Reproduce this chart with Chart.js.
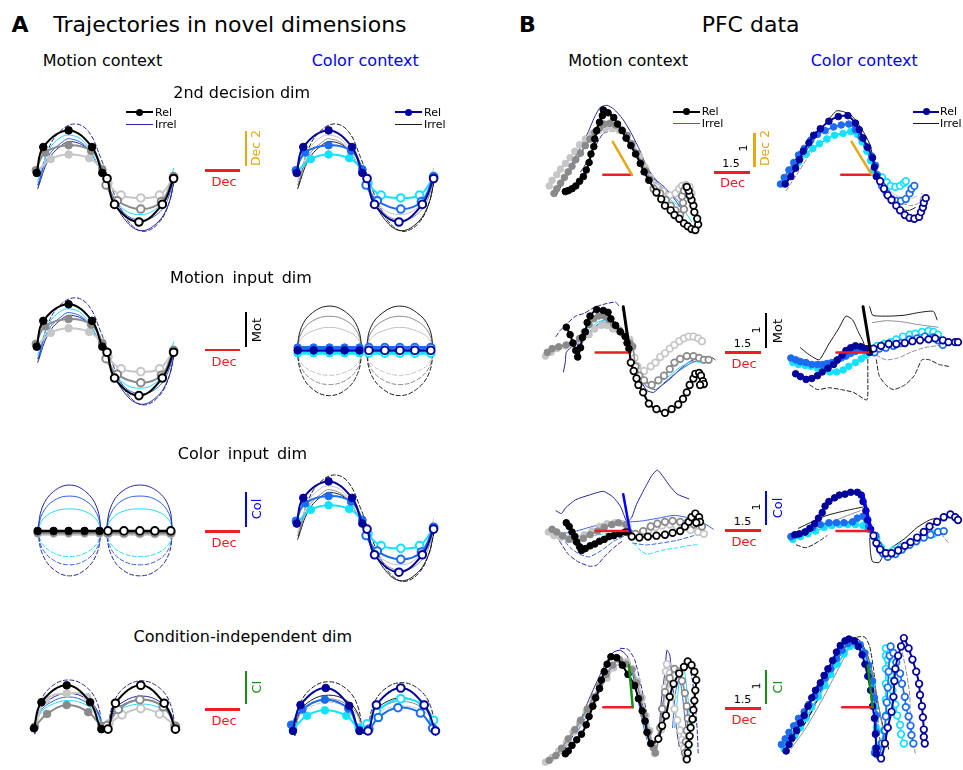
<!DOCTYPE html>
<html><head><meta charset="utf-8">
<script src="https://cdn.jsdelivr.net/npm/chart.js@4.4.1/dist/chart.umd.min.js"></script>
<style>
html,body{margin:0;padding:0;background:#fff;}
body{width:963px;height:770px;position:relative;overflow:hidden;font-family:"DejaVu Sans",sans-serif;color:#000;}
.t{position:absolute;white-space:nowrap;line-height:1;}
canvas{position:absolute;}
.bar{position:absolute;}
</style></head><body>
<script>
// ---------------- colours ----------------
const K='#000000', G2='#8a8a8a', G1='#c6c6c6', NV='#03039c', BL='#1c6cf2', CY='#12e2ff';
const IB1='#25259f', IB2='#2f62e6', IC='#1fdcff', IK='#1a1a1a', IG='#8c8c8c', IL='#c2c2c2';
const RED='#ee1c24', ORG='#e6a817', GRN='#178f17', BLU='#0000ff';

// ================= PANEL A data (offsets in arbitrary state-space units) =================
// sine-shaped trajectories (2nd decision dim, motion-ctx motion dim, color-ctx color dim)
const sineStrong1=[[-73,3],[-66,31],[-39,49],[-14,31],[-3,3]];
const sineStrong2=[[2,-3],[10,-31],[36,-50],[61,-31],[73,-3]];
const sineMid1=[[-74,6],[-64,25],[-39,33],[-15,27],[-3,7]];
const sineMid2=[[1,-10],[13,-27],[38,-36],[60,-28],[73,-1]];
const sineWeak1=[[-73,4],[-58,18],[-39,23],[-17,19],[-3,6]];
const sineWeak2=[[3,-8],[17,-21],[38,-24],[58,-21],[73,-2]];
const sineIrrA=[[-71,-10],[-62,25],[-50,46],[-33,56],[-18,48],[-5,20],[5,-8],[18,-38],[30,-55],[43,-60],[58,-50],[68,-30],[74,-4]];
const sineIrrB=[[-72,-14],[-60,18],[-45,34],[-36,37],[-20,30],[-6,8],[6,-20],[20,-46],[36,-59],[52,-54],[66,-35],[74,-4]];
const sineIrrC=[[-72,-10],[-60,22],[-45,37],[-38,40],[-22,33],[-8,12],[5,-15],[20,-40],[38,-48],[55,-42],[67,-25],[74,2]];
const sineIrrD=[[-72,-6],[-60,28],[-48,41],[-38,44],[-24,38],[-10,16],[4,-14],[18,-35],[36,-42],[54,-36],[66,-18],[73,8]];
// flat trajectories (irrelevant input dimension)
const flatNavy1=[[-72,0],[-55,0],[-38,0],[-22,0],[-6,0]];
const flatNavy2=[[4,0],[21,0],[37,0],[53,0],[70,0]];
const flatBlue1=[[-72,3],[-55,3],[-38,3],[-22,3],[-6,3]];
const flatBlue2=[[4,3],[21,3],[37,3],[53,3],[70,3]];
const flatCyan1=[[-72,-3],[-55,-3],[-38,-3],[-22,-3],[-6,-3]];
const flatCyan2=[[4,-3],[21,-3],[37,-3],[53,-3],[70,-3]];
const flatBlack1=[[-72,0],[-55,0],[-39,0],[-22,0],[-6,0]];
const flatBlack2=[[3,0],[20,0],[37,0],[53,0],[70,0]];
const flatGray1=[[-72,-2],[-55,-2],[-39,-2],[-22,-2],[-6,-2]];
const flatGray2=[[3,-2],[20,-2],[37,-2],[53,-2],[70,-2]];
const flatLight1=[[-72,-3],[-55,-3],[-39,-3],[-22,-3],[-6,-3]];
const flatLight2=[[3,-3],[20,-3],[37,-3],[53,-3],[70,-3]];
// arcs of irrelevant-context trajectories, motion dim (color ctx)
const motArcKUp=[[-73,0],[-68,25],[-56,41],[-38,48],[-20,41],[-8,25],[-3,0],null,[1,0],[6,25],[19,41],[37,48],[55,41],[68,25],[73,0]];
const motArcGUp=[[-73,0],[-68,19],[-56,32],[-38,37],[-20,32],[-8,19],[-3,0],null,[1,0],[6,19],[19,32],[37,37],[55,32],[68,19],[73,0]];
const motArcLUp=[[-73,0],[-68,13],[-56,21],[-38,25],[-20,21],[-8,13],[-3,0],null,[1,0],[6,13],[19,21],[37,25],[55,21],[68,13],[73,0]];
const motArcKDn=[[-73,0],[-68,-25],[-56,-42],[-38,-49],[-20,-42],[-8,-25],[-3,0],null,[1,0],[6,-25],[19,-42],[37,-49],[55,-42],[68,-25],[73,0]];
const motArcGDn=[[-73,0],[-68,-19],[-56,-32],[-38,-37],[-20,-32],[-8,-19],[-3,0],null,[1,0],[6,-19],[19,-32],[37,-37],[55,-32],[68,-19],[73,0]];
const motArcLDn=[[-73,0],[-68,-14],[-56,-23],[-38,-27],[-20,-23],[-8,-14],[-3,0],null,[1,0],[6,-14],[19,-23],[37,-27],[55,-23],[68,-14],[73,0]];
// arcs, color dim (motion ctx)
const colArcNUp=[[-72,0],[-67,26],[-55,43],[-38,50],[-21,43],[-9,26],[-4,0],null,[1,0],[6,26],[18,43],[37,50],[56,43],[68,26],[72,0]];
const colArcBUp=[[-72,0],[-67,19],[-55,33],[-38,38],[-21,33],[-9,19],[-4,0],null,[1,0],[6,19],[18,33],[37,38],[56,33],[68,19],[72,0]];
const colArcCUp=[[-72,0],[-67,12],[-55,21],[-38,24],[-21,21],[-9,12],[-4,0],null,[1,0],[6,12],[18,21],[37,24],[56,21],[68,12],[72,0]];
const colArcNDn=[[-72,0],[-67,-25],[-55,-42],[-38,-49],[-21,-42],[-9,-25],[-4,0],null,[1,0],[6,-25],[18,-42],[37,-49],[56,-42],[68,-25],[72,0]];
const colArcBDn=[[-72,0],[-67,-19],[-55,-32],[-38,-37],[-21,-32],[-9,-19],[-4,0],null,[1,0],[6,-19],[18,-32],[37,-37],[56,-32],[68,-19],[72,0]];
const colArcCDn=[[-72,0],[-67,-14],[-55,-24],[-38,-28],[-21,-24],[-9,-14],[-4,0],null,[1,0],[6,-14],[18,-24],[37,-28],[56,-24],[68,-14],[72,0]];
// condition-independent dim
const ciBlack1=[[-76,1],[-68,30],[-41,49],[-16,30],[-4,0]];
const ciBlack2=[[3,0],[11,29],[38,49],[63,29],[75,0]];
const ciGray1=[[-75,3],[-62,17],[-41,27],[-18,19],[-4,4]];
const ciGray2=[[2,4],[14,22],[37,33],[62,25],[75,3]];
const ciLight1=[[-75,2],[-63,33],[-41,40],[-19,36],[-4,3]];
const ciLight2=[[4,6],[18,16],[38,23],[58,17],[74,4]];
const ciNavy1=[[-77,0],[-69,29],[-42,48],[-17,28],[-6,0]];
const ciNavy2=[[3,0],[12,29],[38,48],[63,29],[75,0]];
const ciBlue1=[[-79,7],[-67,24],[-43,35],[-18,25],[-6,1]];
const ciBlue2=[[4,2],[14,15],[35,26],[59,20],[72,3]];
const ciCyan1=[[-77,2],[-62,17],[-43,23],[-20,17],[-7,4]];
const ciCyan2=[[2,8],[12,22],[38,36],[62,29],[73,12]];
const ciIrrA=[[-75,-5],[-70,28],[-58,47],[-39,55],[-20,47],[-8,28],[-3,-2],null,[3,-2],[8,27],[20,46],[39,54],[58,46],[70,27],[75,-5]];
const ciIrrB=[[-75,-5],[-70,20],[-58,34],[-39,40],[-20,34],[-8,20],[-3,-2],null,[3,-2],[8,18],[20,31],[39,37],[58,31],[70,18],[75,-5]];
const ciIrrC=[[-75,-4],[-70,18],[-58,30],[-39,36],[-20,30],[-8,18],[-3,-2],null,[3,-2],[8,16],[20,28],[39,33],[58,28],[70,16],[75,-4]];
const ciIrrD=[[-75,-3],[-70,16],[-58,27],[-39,32],[-20,27],[-8,16],[-3,-1],null,[3,-1],[8,14],[20,24],[39,28],[58,24],[70,14],[75,-3]];

// ================= PANEL B data (PFC) =================
// row 1: 2nd decision dim
const b1L_k1=[[-70,-18],[-67,-17],[-63,-15],[-59,-12],[-55,-7],[-51,-2],[-48,5],[-45,13],[-43,22],[-40,30],[-39,38],[-37,47],[-34,56],[-31,63],[-30,69],[-25,66],[-19,61],[-15,54],[-10,47],[-6,39],[-1,31],[4,22],[9,12],[13,3],[18,-6]];
const b1L_k2=[[26,-19],[31,-26],[35,-33],[41,-38],[45,-43],[50,-47],[55,-52],[59,-55],[63,-58],[67,-59],[70,-53],[69,-47],[66,-40],[65,-33],[63,-27],[61,-22],[60,-17],[58,-13]];
const b1L_g1=[[-82,-20],[-79,-15],[-75,-9],[-71,-3],[-67,3],[-63,9],[-59,16],[-54,23],[-49,31],[-44,38],[-39,45],[-34,50],[-29,54],[-23,55],[-17,53],[-11,48],[-5,42],[0,33],[5,23],[10,13],[15,4],[19,-5]];
const b1L_g2=[[23,-15],[30,-20],[36,-27],[41,-33],[46,-38],[51,-43],[55,-37],[54,-30],[53,-23],[55,-17],[57,-13]];
const b1L_l1=[[-87,-12],[-84,-6],[-79,0],[-75,6],[-70,12],[-65,18],[-60,25],[-55,32],[-49,38],[-42,44],[-35,47],[-28,49],[-20,49],[-13,47],[-5,41],[1,32],[8,20],[14,8],[20,-3]];
const b1L_l2=[[26,-13],[33,-18],[40,-22],[46,-20],[50,-15],[53,-12],[57,-11],[61,-13],[63,-20]];
const b1L_i1=[[-80,-23],[-70,-3],[-59,20],[-47,43],[-39,62],[-33,72],[-26,74],[-19,70],[-10,60],[-2,47],[8,27],[16,8],[25,-5],[33,-12],[38,-17],[48,-30],[55,-40]];
const b1L_i2=[[-54,3],[-45,17],[-37,33],[-30,44],[-20,47],[-12,46],[-4,37],[5,22],[13,7],[23,-7],[31,-15]];
const b1L_i3=[[-82,-23],[-72,-8],[-62,8],[-52,27],[-42,43],[-34,53],[-25,56],[-15,53],[-5,43],[5,27],[13,8],[23,-8],[35,-22],[45,-30],[55,-38],[63,-50]];
const b1L_i4=[[-69,0],[-59,13],[-49,30],[-39,43],[-30,50],[-20,52],[-10,47],[0,33],[10,17],[20,0],[30,-12],[41,-20],[51,-30]];
const b1L_axes=[[-30,0],[0,0],null,[-20,35],[0,0]];
const b1R_n1=[[-91,-10],[-85,-2],[-80,7],[-76,16],[-72,25],[-66,34],[-61,42],[-54,49],[-45,57],[-35,62],[-25,63],[-17,55],[-13,48],[-9,39],[-4,29],[1,18],[3,8],[5,-2]];
const b1R_n2=[[9,-7],[13,-15],[17,-22],[21,-27],[26,-33],[30,-38],[35,-43],[40,-46],[45,-47],[50,-45],[52,-40],[54,-35],[55,-30],[57,-25]];
const b1R_b1=[[-96,-10],[-92,-3],[-87,5],[-82,13],[-77,21],[-71,28],[-64,37],[-57,43],[-49,47],[-40,51],[-32,53],[-24,54],[-17,48],[-11,40],[-5,30],[0,20],[4,10],[6,0]];
const b1R_b2=[[11,-12],[16,-20],[21,-26],[26,-28],[31,-28],[36,-26],[40,-20],[42,-15],[45,-12]];
const b1R_c1=[[-77,13],[-69,22],[-62,28],[-55,33],[-47,38],[-39,42],[-30,44],[-22,46],[-15,43],[-10,35],[-5,25],[-1,15],[2,5]];
const b1R_c2=[[11,-3],[16,-8],[20,-12],[25,-13],[30,-12],[34,-9],[36,-7]];
const b1R_i1=[[-94,-13],[-80,8],[-64,33],[-50,53],[-37,68],[-29,67],[-20,62],[-10,48],[-2,33],[1,20],[5,0],[8,-13],[15,-20],[23,-30],[31,-37],[40,-38],[46,-35]];
const b1R_i2=[[-90,-17],[-77,3],[-64,23],[-50,37],[-37,43],[-24,45],[-14,40],[-4,25],[3,7],[13,-13],[26,-27],[40,-33],[50,-30],[53,-20]];
const b1R_i3=[[-84,0],[-67,22],[-50,40],[-34,52],[-20,53],[-7,37],[3,13],[10,-10],[23,-20],[36,-27],[48,-23]];
const b1R_axes=[[-32,0],[0,0],null,[-21,35],[0,0]];
// row 2: motion input dim
const b2L_k1=[[-67,27],[-63,19],[-60,10],[-57,2],[-55,-5],[-52,5],[-50,16],[-47,22],[-45,32],[-42,39],[-35,46],[-28,45],[-23,43],[-20,36],[-15,29],[-10,22],[-5,17],[-3,10],[-1,4]];
const b2L_k2=[[1,-11],[4,-20],[7,-28],[9,-35],[14,-43],[20,-55],[28,-61],[37,-65],[44,-61],[51,-56],[56,-50],[60,-43],[63,-35],[67,-28],[69,-23],[73,-22],[75,-25],[77,-31],[78,-34],[74,-35]];
const b2L_g1=[[-87,0],[-82,4],[-75,6],[-67,8],[-60,10],[-53,15],[-48,22],[-43,30],[-38,36],[-33,39],[-27,39],[-22,35],[-17,30],[-11,24],[-5,17],[0,10],[3,6]];
const b2L_g2=[[6,-15],[10,-25],[15,-30],[23,-35],[30,-30],[36,-25],[42,-18],[47,-11],[53,-7],[60,-4],[67,-4],[73,-6],[78,-8],[83,-8]];
const b2L_l1=[[-89,-4],[-83,0],[-77,4],[-68,7],[-60,9],[-52,13],[-43,19],[-37,25],[-30,29],[-24,29],[-18,25],[-12,23],[-5,19],[0,14],[3,7]];
const b2L_l2=[[5,-6],[8,-15],[15,-20],[22,-15],[27,-11],[32,-5],[37,-1],[42,4],[47,8],[52,12],[57,15],[62,17],[67,17],[72,15],[76,12]];
const b2L_i1=[[-78,17],[-73,24],[-65,32],[-57,39],[-48,42],[-40,47],[-30,51],[-22,53],[-15,54],[-11,49]];
const b2L_i2=[[-70,-21],[-68,-10],[-67,0],[-60,7],[-52,10],[-43,19],[-35,29],[-27,35],[-18,34],[-10,25],[-3,14],null,[5,-16],[12,-31],[18,-41],[25,-43],[33,-36],[43,-28],[53,-18],[63,-10],[75,-5],[87,-6],[90,-8]];
const b2L_i3=[[-73,7],[-63,10],[-53,15],[-43,25],[-33,33],[-23,34],[-13,27],[-5,17],null,[5,-11],[13,-28],[22,-35],[32,-31],[42,-25],[53,-16],[65,-10],[77,-11]];
const b2L_i4=[[-57,5],[-43,22],[-30,32],[-17,31],[-5,19],null,[7,-18],[17,-36],[27,-40],[38,-31],[50,-21],[62,-13],[72,-8]];
const b2L_axes=[[-36,0],[0,0],null,[-7,49],[0,0]];
const b2R_n1=[[-79,-23],[-74,-26],[-68,-29],[-62,-28],[-56,-25],[-51,-21],[-45,-17],[-39,-13],[-35,-8],[-30,-3],[-26,2],[-21,5],[-16,7],[-10,6],[-5,4],[-1,0]];
const b2R_n2=[[3,4],[11,7],[19,9],[27,9],[36,10],[44,12],[52,13],[61,14],[68,15],[76,13],[82,11],[89,11],[92,11]];
const b2R_b1=[[-84,-6],[-79,-8],[-74,-10],[-68,-11],[-62,-13],[-56,-13],[-51,-13],[-46,-12],[-41,-11],[-36,-9],[-31,-6],[-26,-4],[-21,-1],[-16,1],[-11,3],[-6,3],[-2,1]];
const b2R_b2=[[4,0],[9,4],[16,5],[24,7],[32,10],[41,14],[49,15],[57,17],[66,16],[71,13],[76,8]];
const b2R_c1=[[-82,-11],[-76,-13],[-69,-14],[-63,-15],[-56,-17],[-49,-19],[-43,-21],[-36,-21],[-29,-19],[-23,-15],[-16,-11],[-10,-7],[-5,-3],[-1,0]];
const b2R_c2=[[7,7],[14,9],[21,11],[27,14],[34,17],[41,19],[47,20],[54,22],[61,23],[66,22],[71,19]];
const b2R_i1=[[-74,5],[-68,0],[-61,-5],[-54,-8],[-44,9],[-34,25],[-26,39],[-19,35],[-13,22],[-8,12],[-4,0],null,[-1,49],[2,40],[9,39],[22,39],[36,40],[52,43],[66,44],[70,35]];
const b2R_i2=[[-78,-5],[-64,-10],[-51,-11],[-34,-6],[-21,7],[-11,10],[-3,4],null,[2,32],[16,34],[32,33],[49,30],[71,27]];
const b2R_i3=[[-64,-35],[-56,-40],[-44,-38],[-31,-40],[-18,-43],[-4,-51],[-3,-28],[-3,-5],null,[6,-8],[9,-25],[16,-35],[24,-40],[36,-35],[46,-25],[54,-8],[62,-8],[72,-13],[82,-15]];
const b2R_i4=[[6,-3],[16,-8],[29,-6],[42,0],[56,5],[69,7],[82,9]];
const b2R_axes=[[-36,0],[0,0],null,[-8,49],[0,0]];
// row 3: color input dim
const b3L_k1=[[-67,9],[-64,5],[-61,-1],[-58,-6],[-56,-12],[-53,-17],[-51,-21],[-47,-19],[-42,-16],[-37,-14],[-32,-11],[-27,-9],[-22,-6],[-17,-5],[-11,-3],[-5,-1],[-2,-1]];
const b3L_k2=[[2,-6],[10,-7],[19,-6],[28,-5],[37,-4],[45,-2],[53,0],[58,5],[62,10],[65,15],[69,19],[73,15],[74,10],[70,9]];
const b3L_g1=[[-82,2],[-77,-1],[-71,-5],[-64,-9],[-57,-11],[-49,-8],[-42,-4],[-34,0],[-27,4],[-19,7],[-12,9],[-4,7]];
const b3L_g2=[[6,-3],[14,0],[22,5],[29,8],[37,10],[45,11],[53,10],[61,9],[68,7],[76,5]];
const b3L_l1=[[-86,-1],[-80,-5],[-73,-7],[-65,-8],[-57,-6],[-48,-4],[-40,0],[-32,5],[-24,8],[-16,9],[-8,8],[-2,5]];
const b3L_l2=[[4,-5],[12,-3],[19,0],[27,4],[34,6],[42,7],[49,6],[57,4],[64,1],[72,-1],[78,-3]];
const b3L_i1=[[-78,22],[-72,19],[-68,25],[-57,34],[-43,39],[-28,43],[-18,37],[-10,27],[-3,10],[2,15],[7,29],[15,45],[23,60],[29,66],[35,59],[42,49],[50,40],[62,35]];
const b3L_i2=[[-74,-11],[-65,-25],[-55,-33],[-43,-38],[-35,-37],[-27,-28],[-17,-18],[-7,-10]];
const b3L_i3=[[-72,-6],[-63,-18],[-53,-25],[-43,-28],[-30,-21],[-17,-11],[-5,-5],null,[3,-13],[17,-15],[33,-13],[50,-10],[67,-5],[82,0]];
const b3L_i4=[[-77,-3],[-60,-1],[-43,4],[-27,8],[-10,10],[0,10],[13,11],[30,14],[47,17],[63,14],[77,9],[88,2]];
const b3L_i5=[[-73,-8],[-60,-10],[-43,-6],[-27,-3],[-10,-1],[0,-8],[10,-20],[18,-25],[33,-21],[50,-18],[67,-15],[73,-15]];
const b3L_axes=[[-36,0],[0,0],null,[-7,40],[0,0]];
const b3R_n1=[[-81,-4],[-76,-3],[-70,-1],[-65,3],[-60,8],[-56,14],[-52,20],[-49,27],[-45,32],[-39,36],[-34,39],[-28,40],[-22,42],[-15,42],[-11,39],[-9,32],[-6,22],[-4,12],[-1,2]];
const b3R_n2=[[2,-5],[5,-13],[9,-20],[15,-24],[21,-24],[28,-21],[35,-16],[41,-12],[48,-7],[55,-1],[61,5],[69,10],[76,15],[83,18],[88,15],[91,12]];
const b3R_b1=[[-85,-6],[-79,-4],[-70,-1],[-62,4],[-54,7],[-45,9],[-37,9],[-29,9],[-20,10],[-15,14],[-9,16],[-5,12],[-3,5]];
const b3R_b2=[[4,-5],[7,-15],[12,-24],[17,-28],[25,-25],[32,-20],[40,-15],[47,-11],[55,-7],[62,-4],[70,-1],[76,0]];
const b3R_c1=[[-83,-9],[-75,-6],[-67,-3],[-59,0],[-50,4],[-42,6],[-34,7],[-25,7],[-17,7],[-9,6],[-4,2]];
const b3R_c2=[[5,-8],[10,-18],[15,-24],[23,-21],[31,-17],[40,-13],[48,-9],[56,-5],[65,-3]];
const b3R_i1=[[-77,3],[-69,7],[-59,12],[-47,17],[-32,21],[-19,24],[-9,26],null,[-2,-8],[-1,-25],[1,-33],[8,-34],[13,-25],[21,-18],[35,-8],[48,4],[61,12],[68,14]];
const b3R_i2=[[-79,-15],[-70,-18],[-62,-15],[-54,-10],[-47,-5]];
const b3R_i3=[[-72,-1],[-59,4],[-42,10],[-25,17],[-12,22]];
const b3R_i4=[[50,-2],[65,4],[73,-3],[81,-13]];
const b3R_axes=[[-37,0],[0,0],null,[-9,40],[0,0]];
// row 4: condition-independent dim
const b4L_k1=[[-71,-50],[-68,-47],[-64,-41],[-59,-35],[-54,-29],[-49,-19],[-46,-10],[-42,1],[-39,10],[-35,20],[-33,29],[-30,38],[-27,46],[-23,54],[-17,53],[-11,45],[-5,35],[2,23],[6,9],[10,-4],[13,-15],[15,-27],[19,-39]];
const b4L_k2=[[27,-34],[31,-20],[35,-9],[39,11],[43,25],[49,36],[54,43],[58,49],[62,45],[65,38],[67,29],[66,18],[65,7],[64,-3],[63,-13],[61,-22],[60,-31],[59,-40],[58,-49],[57,-56]];
const b4L_g1=[[-88,-57],[-81,-52],[-75,-44],[-68,-34],[-61,-24],[-55,-14],[-48,-2],[-41,11],[-35,23],[-28,35],[-21,45],[-14,51],[-7,46],[-1,40],[4,26],[8,10],[12,-9],[17,-27],[22,-44],[24,-49]];
const b4L_g2=[[29,-22],[31,-2],[34,16],[39,31],[44,41],[49,38],[52,28],[55,15],[57,1],[58,-12],[57,-25],[56,-37],[55,-49]];
const b4L_l1=[[-92,-59],[-85,-54],[-78,-47],[-70,-38],[-63,-27],[-56,-17],[-49,-5],[-42,6],[-35,20],[-27,31],[-20,42],[-12,48],[-6,49],[0,41],[5,28],[10,10],[14,-9],[18,-25],[21,-42],[23,-50]];
const b4L_l2=[[30,-24],[33,-2],[34,21],[35,38],[36,46],[39,36],[40,25],[42,11],[44,-2],[47,-14],[50,-25],[52,-35],[54,-44],[56,-54]];
const b4L_i1=[[-78,-52],[-70,-42],[-61,-27],[-53,-9],[-45,11],[-36,31],[-28,48],[-20,59],[-13,61],[-6,55],[0,38],[7,15],[14,-12],[20,-35],[24,-39],[28,-22],[30,5],[34,38],[36,61],[39,56],[41,35],[44,5],[46,-22],[49,-42]];
const b4L_i2=[[-13,63],[-5,62],[2,51],[7,31],[12,8],[17,-19],null,[54,41],[59,45],[63,28],[66,1],[68,-25],[69,-49]];
const b4L_i3=[[-83,-54],[-70,-39],[-56,-19],[-43,6],[-30,31],[-18,50],[-10,51],[-1,38],[5,11],[12,-19],[19,-42],null,[44,-22],[47,8],[50,35],[54,41],[56,28],[59,1],[60,-25],[61,-45]];
const b4L_i4=[[-60,-29],[-46,-5],[-33,21],[-23,41],[-15,51],[-6,50],[0,35],[5,11],[10,-15],[15,-35],null,[42,-22],[45,15],[49,31],[52,16],[55,-12],[58,-39]];
const b4L_axes=[[-31,0],[0,0],null,[-4,45],[0,0]];
const b4R_n1=[[-91,-47],[-88,-40],[-85,-33],[-80,-25],[-76,-17],[-72,-9],[-68,1],[-64,10],[-60,18],[-55,26],[-51,34],[-47,41],[-42,50],[-38,59],[-34,66],[-29,71],[-25,73],[-19,71],[-15,65],[-11,56],[-8,46],[-5,33],[-2,18],[0,1],[2,-12],[3,-29],[4,-44],[4,-50]];
const b4R_n2=[[9,-55],[13,-39],[16,-22],[20,-5],[22,11],[23,28],[24,41],[27,55],[30,65],[33,74],[38,63],[42,51],[46,38],[49,25],[50,13],[52,1],[53,-11],[54,-24],[54,-32],[55,-39]];
const b4R_b1=[[-96,-40],[-92,-34],[-88,-27],[-83,-20],[-78,-12],[-72,-5],[-67,3],[-61,12],[-56,21],[-50,31],[-44,41],[-38,52],[-32,61],[-26,68],[-20,70],[-13,67],[-8,58],[-4,45],[0,28],[2,10],[4,-9],[4,-27],[3,-44],[2,-49]];
const b4R_b2=[[7,-52],[10,-39],[13,-25],[14,-10],[15,5],[16,21],[17,38],[18,55],[19,65],[22,58],[25,48],[29,36],[31,25],[34,11],[35,0],[38,-10],[40,-20],[41,-30],[43,-39]];
const b4R_c1=[[-93,-45],[-88,-39],[-82,-31],[-76,-22],[-70,-12],[-64,0],[-57,11],[-50,23],[-44,35],[-37,46],[-30,57],[-24,65],[-17,66],[-10,59],[-5,45],[0,25],[2,1],[4,-22],[3,-45]];
const b4R_c2=[[4,-50],[9,-39],[12,-25],[14,-9],[14,8],[14,25],[14,41],[14,55],[14,63],[16,51],[19,35],[21,18],[24,3],[26,-9],[29,-19],[30,-29],[33,-39]];
const b4R_i1=[[-91,-49],[-80,-32],[-66,-9],[-53,18],[-40,45],[-28,65],[-16,75],[-8,75],[-3,65],[1,41],[4,11],[6,-19],[9,-45]];
const b4R_i2=[[-90,-44],[-76,-25],[-63,-2],[-50,28],[-38,55],[-30,71],[-21,75],[-13,71],[-5,55],[1,31],[5,8],[9,-12],[14,-32],[17,-45]];
const b4R_i3=[[-86,-45],[-70,-22],[-53,8],[-36,41],[-23,65],[-13,68],[-3,48],[4,15],[10,-19],[14,-39]];
const b4R_i4=[[30,65],[35,41],[39,15],[40,-12],[42,-32],[45,-49]];
const b4R_axes=[[-32,0],[0,0],null,[-5,45],[0,0]];

// ================= helpers =================
const body=document.body;
function txt(s,x,base,size,o={}){
  const e=document.createElement('div'); e.className='t'; e.textContent=s;
  e.style.fontSize=size+'px'; e.style.top=(base-0.846*size)+'px'; e.style.left=x+'px';
  if(o.bold) e.style.fontWeight='bold';
  if(o.color) e.style.color=o.color;
  if(o.ws) e.style.wordSpacing=o.ws+'px';
  if(o.center) e.style.transform='translateX(-50%)';
  body.appendChild(e);
}
function rot(s,cx,cy,size,color){
  const e=document.createElement('div'); e.className='t'; e.textContent=s;
  e.style.fontSize=size+'px'; e.style.left=cx+'px'; e.style.top=cy+'px'; e.style.color=color||'#000';
  e.style.transform='translate(-50%,-50%) rotate(-90deg)';
  body.appendChild(e);
}
function hbar(x1,x2,y,c,w){const e=document.createElement('div');e.className='bar';
  e.style.left=x1+'px';e.style.width=(x2-x1)+'px';e.style.top=(y-w/2)+'px';e.style.height=w+'px';e.style.background=c;body.appendChild(e);}
function vbar(x,y1,y2,c,w){const e=document.createElement('div');e.className='bar';
  e.style.left=(x-w/2)+'px';e.style.width=w+'px';e.style.top=y1+'px';e.style.height=(y2-y1)+'px';e.style.background=c;body.appendChild(e);}
function dot(x,y,r,c){const e=document.createElement('div');e.className='bar';
  e.style.left=(x-r)+'px';e.style.top=(y-r)+'px';e.style.width=(2*r)+'px';e.style.height=(2*r)+'px';e.style.borderRadius='50%';e.style.background=c;body.appendChild(e);}

const rel=(a,b,c,w)=>({d:a.concat(b),open:a.length,c:c,w:w||2,r:1});
const relSplit=(a,b,c,w)=>({d:a.concat([null],b),open:a.length,c:c,w:w||2,r:1});
const irr=(d,c,dash,w)=>({d:d,c:c,dash:!!dash,w:w||1});
const ax=(d,c,w)=>({d:d,c:c,w:w||2.5,t:0});

function mk(box,org,layers,o){
  const cv=document.createElement('canvas');
  cv.width=box[2];cv.height=box[3];
  cv.style.left=box[0]+'px';cv.style.top=box[1]+'px';
  cv.style.width=box[2]+'px';cv.style.height=box[3]+'px';
  body.appendChild(cv);
  const ds=[];
  layers.forEach(L=>{
    let seg=[],bg=[],bw=[],k=0;
    const flush=()=>{
      if(seg.length) ds.push({data:seg,borderColor:L.c,borderWidth:L.w,borderDash:L.dash?[4,2.5]:[],
        tension:(L.t!=null?L.t:o.t),pointRadius:L.r?o.r:0,pointHoverRadius:0,
        pointBackgroundColor:bg,pointBorderColor:L.c,pointBorderWidth:bw,fill:false,clip:false,
        borderCapStyle:'round',borderJoinStyle:'round'});
      seg=[];bg=[];bw=[];
    };
    L.d.forEach(p=>{
      if(!p){flush();return;}
      const op=L.open!=null&&k>=L.open;
      seg.push({x:p[0],y:p[1]});bg.push(op?'#ffffff':L.c);bw.push(op?o.ow:1);k++;
    });
    flush();
  });
  const n=ds.length; ds.forEach((d,i)=>d.order=n-i);
  new Chart(cv,{type:'line',data:{datasets:ds},options:{responsive:false,animation:false,events:[],devicePixelRatio:1,
    layout:{padding:0},plugins:{legend:{display:false},tooltip:{enabled:false}},
    scales:{x:{type:'linear',display:false,min:box[0]-org[0],max:box[0]+box[2]-org[0]},
            y:{type:'linear',display:false,min:org[1]-box[1]-box[3],max:org[1]-box[1]}}}});
}
const OA={t:0.4,r:3.8,ow:2};
const OB={t:0.2,r:3.3,ow:1.7};

// ================= Panel A charts =================
const motIrrSine=[irr(sineIrrA,IB1,true),irr(sineIrrB,IB1),irr(sineIrrC,IB2),irr(sineIrrD,IC)];
const colIrrSine=[irr(sineIrrA,IK,true),irr(sineIrrB,IK),irr(sineIrrC,IG),irr(sineIrrD,IL)];
const motRelSine=[rel(sineWeak1,sineWeak2,G1),rel(sineMid1,sineMid2,G2),rel(sineStrong1,sineStrong2,K)];
const colRelSine=[rel(sineWeak1,sineWeak2,CY),rel(sineMid1,sineMid2,BL),rel(sineStrong1,sineStrong2,NV)];
mk([15,95,185,155],[105,176],motIrrSine.concat(motRelSine),OA);
mk([275,95,185,155],[365,176],colIrrSine.concat(colRelSine),OA);
mk([15,280,185,150],[105,349],motIrrSine.concat(motRelSine),OA);
mk([275,280,185,150],[365,350],[irr(motArcLUp,IL),irr(motArcGUp,IG),irr(motArcKUp,IK),
  irr(motArcLDn,IL,true),irr(motArcGDn,IG,true),irr(motArcKDn,IK,true),
  relSplit(flatCyan1,flatCyan2,CY,3),relSplit(flatBlue1,flatBlue2,BL,3),relSplit(flatNavy1,flatNavy2,NV,2.5)],OA);
mk([15,460,185,140],[105,531],[irr(colArcCUp,IC),irr(colArcBUp,IB2),irr(colArcNUp,IB1),
  irr(colArcCDn,IC,true),irr(colArcBDn,IB2,true),irr(colArcNDn,IB1,true),
  rel(flatLight1,flatLight2,G1,4),rel(flatGray1,flatGray2,G2,3),rel(flatBlack1,flatBlack2,K,2.5)],OA);
mk([275,460,185,140],[365,526],colIrrSine.concat(colRelSine),OA);
mk([15,650,185,110],[105,732],[irr(ciIrrA,IB1,true),irr(ciIrrB,IB1),irr(ciIrrC,IB2),irr(ciIrrD,IC),
  rel(ciLight1,ciLight2,G1),rel(ciGray1,ciGray2,G2),rel(ciBlack1,ciBlack2,K)],OA);
mk([275,650,185,110],[365,734],[irr(ciIrrA,IK,true),irr(ciIrrB,IK),irr(ciIrrC,IG),irr(ciIrrD,IL,true),
  rel(ciCyan1,ciCyan2,CY),rel(ciBlue1,ciBlue2,BL),rel(ciNavy1,ciNavy2,NV)],OA);

// ================= Panel B charts =================
mk([530,90,195,160],[632,175],[irr(b1L_i4,IB2),irr(b1L_i3,IC),irr(b1L_i2,IB1,true),irr(b1L_i1,IB1),
  rel(b1L_l1,b1L_l2,G1,1.6),rel(b1L_g1,b1L_g2,G2,1.6),rel(b1L_k1,b1L_k2,K,2),
  ax(b1L_axes.slice(0,2),RED),ax(b1L_axes.slice(3),ORG)],OB);
mk([765,90,198,160],[872,175],[irr(b1R_i3,IL),irr(b1R_i2,IG,true),irr(b1R_i1,IK),
  rel(b1R_c1,b1R_c2,CY,1.6),rel(b1R_b1,b1R_b2,BL,1.6),rel(b1R_n1,b1R_n2,NV,2),
  ax(b1R_axes.slice(0,2),RED),ax(b1R_axes.slice(3),ORG)],OB);
mk([530,285,195,145],[630,352],[irr(b2L_i1,IB1,true),irr(b2L_i2,IB1),irr(b2L_i3,IC),irr(b2L_i4,IB2),
  rel(b2L_l1,b2L_l2,G1,1.6),rel(b2L_g1,b2L_g2,G2,1.6),rel(b2L_k1,b2L_k2,K,2),
  ax(b2L_axes.slice(0,2),RED),ax(b2L_axes.slice(3),K,3)],OB);
mk([765,285,198,145],[871,352],[irr(b2R_i1,IK),irr(b2R_i2,IG),irr(b2R_i3,IK,true),irr(b2R_i4,IG,true),
  rel(b2R_c1,b2R_c2,CY,1.6),rel(b2R_b1,b2R_b2,BL,1.6),rel(b2R_n1,b2R_n2,NV,2),
  ax(b2R_axes.slice(0,2),RED),ax(b2R_axes.slice(3),K,3)],OB);
mk([530,455,195,130],[630,532],[irr(b3L_i1,IB1),irr(b3L_i2,IB1,true),irr(b3L_i3,IB2,true),irr(b3L_i4,IB2),irr(b3L_i5,IC,true),
  rel(b3L_l1,b3L_l2,G1,1.6),rel(b3L_g1,b3L_g2,G2,1.6),rel(b3L_k1,b3L_k2,K,2),
  ax(b3L_axes.slice(0,2),RED),ax(b3L_axes.slice(3),BLU)],OB);
mk([765,455,198,130],[872,532],[irr(b3R_i1,IK),irr(b3R_i2,IK,true),irr(b3R_i3,IG),irr(b3R_i4,IG,true),
  rel(b3R_c1,b3R_c2,CY,1.6),rel(b3R_b1,b3R_b2,BL,1.6),rel(b3R_n1,b3R_n2,NV,2),
  ax(b3R_axes.slice(0,2),RED),ax(b3R_axes.slice(3),BLU)],OB);
mk([530,620,195,150],[633,708],[irr(b4L_i1,IB1),irr(b4L_i2,IB1,true),irr(b4L_i3,IC),irr(b4L_i4,IB2),
  rel(b4L_l1,b4L_l2,G1,1.6),rel(b4L_g1,b4L_g2,G2,1.6),rel(b4L_k1,b4L_k2,K,2),
  ax(b4L_axes.slice(0,2),RED),ax(b4L_axes.slice(3),GRN)],OB);
mk([765,620,198,150],[873,708],[irr(b4R_i1,IK,true),irr(b4R_i2,IK),irr(b4R_i3,IG),irr(b4R_i4,IG,true),
  rel(b4R_c1,b4R_c2,CY,1.6),rel(b4R_b1,b4R_b2,BL,1.6),rel(b4R_n1,b4R_n2,NV,2),
  ax(b4R_axes.slice(0,2),RED),ax(b4R_axes.slice(3),GRN)],OB);

// ================= text =================
txt('A',11.5,32.3,22,{bold:true});
txt('Trajectories in novel dimensions',53.3,32.3,22);
txt('B',519,32.3,22,{bold:true});
txt('PFC data',701.7,32.3,22);
txt('Motion context',42.7,66.7,16);
txt('Color context',311.7,66.7,16,{color:BLU});
txt('Motion context',568.3,66.7,16);
txt('Color context',810.7,66.7,16,{color:BLU});
txt('2nd decision dim',241.7,98.3,16,{center:true});
txt('Motion input dim',241,284,16,{center:true,ws:3});
txt('Color input dim',242.5,460,16,{center:true,ws:3});
txt('Condition-independent dim',242.8,642.7,16,{center:true});

// legends (row 1)
function legend(x1,x2,yRel,yIrr,relC,irrC,tx){
  hbar(x1,x2,yRel,relC,2); dot((x1+x2)/2,yRel,3.8,relC);
  txt('Rel',tx,yRel+3.8,11);
  hbar(x1,x2,yIrr,irrC,1);
  txt('Irrel',tx,yIrr+4,11);
}
legend(126,152.7,112.3,124.3,K,IB1,155);
legend(395,421.7,112.3,124.3,NV,IK,424);
legend(673.3,700,111.7,123.3,K,IB2,701.7);
legend(913.3,939.3,111.7,123.3,NV,IK,940);

// ================= scale bars =================
// Panel A
const aRows=[[170.7,131,165.7,ORG,'Dec 2',12.5],[350,312,347,K,'Mot',13],[531.7,492,526.7,BLU,'Col',13],[709.3,670.7,704,GRN,'CI',13]];
aRows.forEach(r=>{
  hbar(205,240,r[0],RED,2.5); txt('Dec',224,r[0]+15.5,13,{center:true,color:RED});
  vbar(246,r[1],r[2],r[3],2.5); rot(r[4],256,(r[1]+r[2])/2,r[5],r[3]);
});
// Panel B
hbar(714.3,750,172.7,RED,2.5); txt('Dec',732.5,187.3,13,{center:true,color:RED});
txt('1.5',731,167.3,11,{center:true}); rot('1',742.7,148.3,11,'#000');
vbar(754.3,132.7,167.3,ORG,2.5); rot('Dec 2',765,148.3,12.5,ORG);
const bRows=[[352.7,313.3,348.3,K,'Mot'],[530.7,491,525,BLU,'Col'],[708.7,670,704.3,GRN,'CI']];
bRows.forEach(r=>{
  hbar(725,760.7,r[0],RED,2.5); txt('Dec',744,r[0]+15,13,{center:true,color:RED});
  txt('1.5',742.5,r[0]-5.4,11,{center:true}); rot('1',755.5,(r[1]+r[2])/2-1,11,'#000');
  vbar(766,r[1],r[2],r[3],2.5); rot(r[4],776.7,(r[1]+r[2])/2,13,r[3]);
});
</script>
</body></html>
